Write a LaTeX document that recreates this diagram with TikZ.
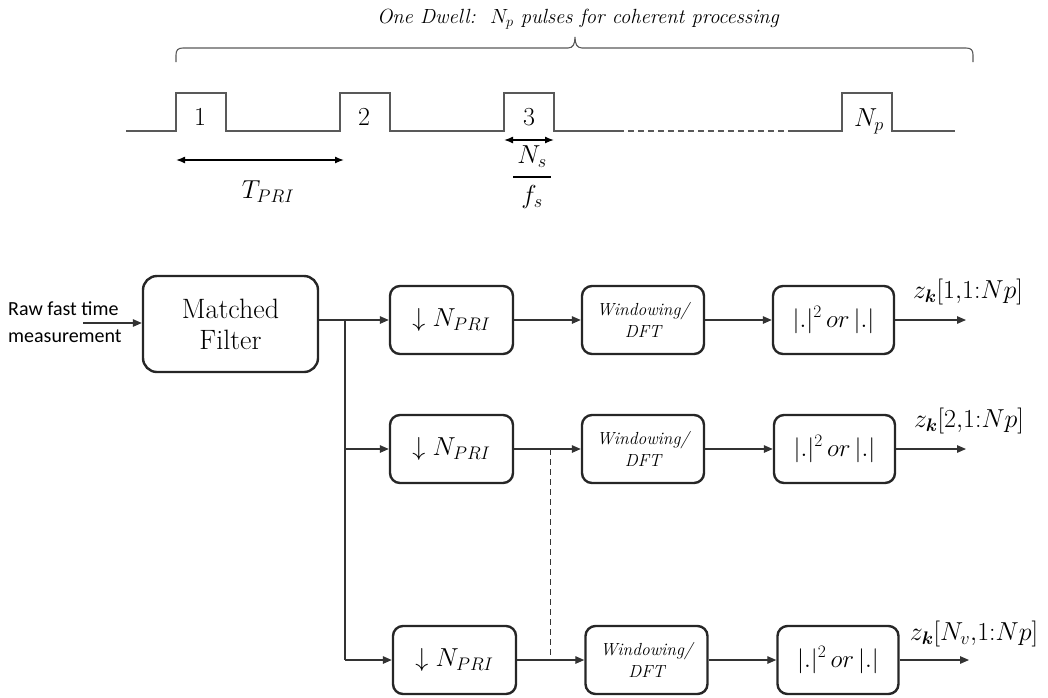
\RequirePackage{fix-cm}
\documentclass[tikz,border=0pt]{standalone}
\usepackage{amsmath}
\usepackage{fontspec}
\newfontfamily\calib{Carlito}
\usetikzlibrary{arrows.meta}
\definecolor{boxc}{HTML}{262626}
\definecolor{linec}{HTML}{333333}
\definecolor{pulsec}{HTML}{595959}
\tikzset{
  blk/.style={draw=boxc, line width=2.4pt, rounded corners=10pt, inner sep=0pt, minimum height=68pt, text=black},
  dnbox/.style={blk, minimum width=123pt, font=\fontsize{26}{28}\selectfont},
  winbox/.style={blk, minimum width=122pt, align=center, font=\fontsize{17.5}{22}\selectfont\itshape},
  absbox/.style={blk, minimum width=121pt, font=\fontsize{25}{28}\selectfont},
  conn/.style={draw=linec, line width=1.3pt},
  arr/.style={conn, -{Triangle[length=9pt,width=7.5pt]}},
  darr/.style={draw=black, line width=1.4pt, {Latex[length=9pt,width=7pt]}-{Latex[length=9pt,width=7pt]}},
  pulse/.style={draw=pulsec, line width=1.3pt},
  outlbl/.style={font=\fontsize{26}{28}\selectfont, inner sep=0pt},
  plbl/.style={font=\fontsize{26}{28}\selectfont, inner sep=0pt}
}
\begin{document}
\begin{tikzpicture}[x=1pt,y=-1pt]
\useasboundingbox (0,0) rectangle (1048,697);
% ---------- top: pulse train ----------
\node[inner sep=0pt, font=\fontsize{20.5}{24}\selectfont\itshape] (title) at (578,19) {One Dwell:\ \ $N_p$ pulses for coherent processing};
\draw[draw=pulsec, line width=1.1pt] (176,62) -- (176,55) .. controls (176,50) and (178,48) .. (183,48) -- (568,48) .. controls (573,48) and (575,44) .. (575,37) .. controls (575,44) and (577,48) .. (582,48) -- (966,48) .. controls (971,48) and (973,50) .. (973,55) -- (973,62);
\draw[pulse] (126,131) -- (176,131) -- (176,93) -- (226,93) -- (226,131) -- (340,131) -- (340,93) -- (390,93) -- (390,131) -- (504,131) -- (504,93) -- (554,93) -- (554,131) -- (618,131);
\draw[pulse, dash pattern=on 6pt off 4pt] (618,131) -- (792,131);
\draw[pulse] (792,131) -- (842,131) -- (842,93) -- (892,93) -- (892,131) -- (955,131);
\node[plbl] (p1) at (200,117) {$1$};
\node[plbl] (p2) at (364,117) {$2$};
\node[plbl] (p3) at (529,117) {$3$};
\node[plbl] (pn) at (869,121) {$N_p$};
\coordinate (ta) at (176,160);
\coordinate (tb) at (344,160);
\draw[darr] (ta) -- (tb);
\node[plbl] (tpri) at (268,192) {$T_{PRI}$};
\coordinate (na) at (504,140);
\coordinate (nb) at (554,140);
\draw[darr] (na) -- (nb);
\node[plbl] (frac) at (532,177) {$\genfrac{}{}{1.8pt}{0}{\,N_s\,\rule[-7pt]{0pt}{0pt}}{\rule{0pt}{20pt}f_s}$};
% ---------- bottom: block diagram ----------
\node[inner sep=0pt, anchor=west, align=left, font=\fontsize{20}{27}\selectfont\calib] (raw) at (8,322) {Raw fast time\\measurement};
\node[blk, minimum width=175pt, minimum height=96pt, rounded corners=14pt, align=center, font=\fontsize{28}{31}\selectfont] (mf) at (230.5,324) {Matched\\Filter};
\coordinate (in) at (83,323);
\draw[arr] (in) -- (mf.west |- in);
% rows
\node[dnbox] (d1) at (451.5,320) {$\downarrow N_{PRI}$};
\node[winbox] (w1) at (643,320) {Windowing/\\DFT};
\node[absbox] (a1) at (833.5,320) {$|.|^{2}\,or\,|.|$};
\node[dnbox] (d2) at (451.5,449) {$\downarrow N_{PRI}$};
\node[winbox] (w2) at (643,449) {Windowing/\\DFT};
\node[absbox] (a2) at (834.5,449) {$|.|^{2}\,or\,|.|$};
\node[dnbox] (d3) at (454.5,660) {$\downarrow N_{PRI}$};
\node[winbox] (w3) at (646.5,660) {Windowing/\\DFT};
\node[absbox] (a3) at (838,660) {$|.|^{2}\,or\,|.|$};
% trunk
\coordinate (j1) at (345,320);
\coordinate (j2) at (345,449);
\coordinate (j3) at (345,660);
\draw[conn] (mf.east |- j1) -- (j1);
\draw[arr] (j1) -- (d1);
\draw[conn] (j1) -- (j3);
\draw[arr] (j2) -- (d2);
\draw[arr] (j3) -- (d3);
\draw[arr] (d1) -- (w1);
\draw[arr] (w1) -- (a1);
\draw[arr] (d2) -- (w2);
\draw[arr] (w2) -- (a2);
\draw[arr] (d3) -- (w3);
\draw[arr] (w3) -- (a3);
\coordinate (dt) at (550,449);
\coordinate (db) at (550,660);
\draw[conn, line width=1pt, dash pattern=on 6pt off 4pt] (dt) -- (db);
% outputs
\coordinate (o1) at (966,320);
\coordinate (o2) at (966,449);
\coordinate (o3) at (969,660);
\draw[arr] (a1) -- (o1);
\draw[arr] (a2) -- (o2);
\draw[arr] (a3) -- (o3);
\node[outlbl] (z1) at (968,292) {$z_{\boldsymbol{k}}[1{,}1{:}Np]$};
\node[outlbl] (z2) at (969,421) {$z_{\boldsymbol{k}}[2{,}1{:}Np]$};
\node[outlbl] (z3) at (974,634) {$z_{\boldsymbol{k}}[N_v{,}1{:}Np]$};
\end{tikzpicture}
\end{document}
